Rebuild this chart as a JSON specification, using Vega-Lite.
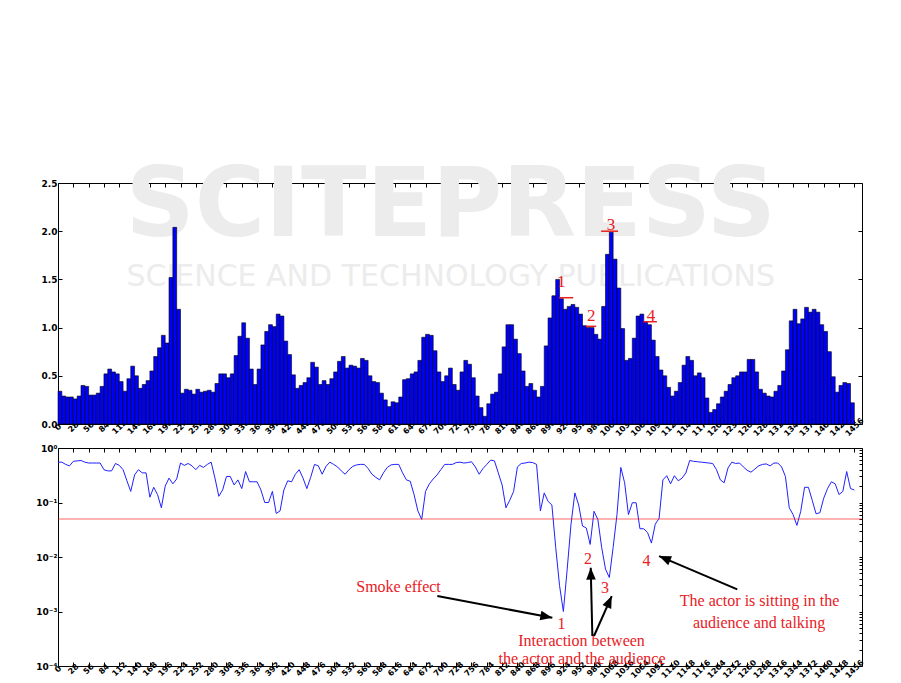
{
  "$schema": "https://vega.github.io/schema/vega-lite/v6.json",
  "background": "white",
  "padding": {"left": 35, "top": 158, "right": 5, "bottom": 5},
  "spacing": 24,
  "bounds": "flush",
  "config": {
    "view": {"stroke": "#000000", "strokeWidth": 1},
    "axis": {"domain": false, "grid": false, "labelFont": "DejaVu Sans", "labelFontWeight": "bold", "labelFontSize": 8, "labelColor": "#000000", "tickColor": "#000000", "tickSize": -4, "title": null, "labelOverlap": false, "labelFlush": false}
  },
  "datasets": {
    "watermark": [
      {"row": 1, "text": "SCITEPRESS", "x": 718, "v": 1.95},
      {"row": 2, "text": "SCIENCE AND TECHNOLOGY PUBLICATIONS", "x": 718, "v": 1.43}
    ],
    "bars": [
      {"s":0,"e":7,"h":0.34},{"s":7,"e":14,"h":0.29},{"s":14,"e":21,"h":0.28},{"s":21,"e":28,"h":0.28},{"s":28,"e":35,"h":0.26},{"s":35,"e":42,"h":0.29},{"s":42,"e":49,"h":0.40},{"s":49,"e":56,"h":0.39},{"s":56,"e":63,"h":0.30},{"s":63,"e":70,"h":0.30},
      {"s":70,"e":77,"h":0.32},{"s":77,"e":84,"h":0.39},{"s":84,"e":91,"h":0.52},{"s":91,"e":98,"h":0.57},{"s":98,"e":105,"h":0.54},{"s":105,"e":112,"h":0.52},{"s":112,"e":119,"h":0.44},{"s":119,"e":126,"h":0.34},{"s":126,"e":133,"h":0.47},{"s":133,"e":140,"h":0.60},
      {"s":140,"e":147,"h":0.50},{"s":147,"e":154,"h":0.37},{"s":154,"e":161,"h":0.41},{"s":161,"e":168,"h":0.45},{"s":168,"e":175,"h":0.55},{"s":175,"e":182,"h":0.70},{"s":182,"e":189,"h":0.79},{"s":189,"e":196,"h":0.92},{"s":196,"e":203,"h":0.84},{"s":203,"e":210,"h":1.52},
      {"s":210,"e":217,"h":2.04},{"s":217,"e":224,"h":1.19},{"s":224,"e":231,"h":0.32},{"s":231,"e":238,"h":0.36},{"s":238,"e":245,"h":0.35},{"s":245,"e":252,"h":0.31},{"s":252,"e":259,"h":0.36},{"s":259,"e":266,"h":0.33},{"s":266,"e":273,"h":0.34},{"s":273,"e":280,"h":0.35},
      {"s":280,"e":287,"h":0.33},{"s":287,"e":294,"h":0.42},{"s":294,"e":301,"h":0.52},{"s":301,"e":308,"h":0.52},{"s":308,"e":315,"h":0.48},{"s":315,"e":322,"h":0.52},{"s":322,"e":329,"h":0.71},{"s":329,"e":336,"h":0.91},{"s":336,"e":343,"h":1.05},{"s":343,"e":350,"h":0.89},
      {"s":350,"e":357,"h":0.57},{"s":357,"e":364,"h":0.41},{"s":364,"e":371,"h":0.57},{"s":371,"e":378,"h":0.82},{"s":378,"e":385,"h":0.96},{"s":385,"e":392,"h":1.03},{"s":392,"e":399,"h":1.01},{"s":399,"e":406,"h":1.14},{"s":406,"e":413,"h":1.12},{"s":413,"e":420,"h":0.86},
      {"s":420,"e":427,"h":0.72},{"s":427,"e":434,"h":0.51},{"s":434,"e":441,"h":0.37},{"s":441,"e":448,"h":0.40},{"s":448,"e":455,"h":0.43},{"s":455,"e":462,"h":0.48},{"s":462,"e":469,"h":0.64},{"s":469,"e":476,"h":0.59},{"s":476,"e":483,"h":0.41},{"s":483,"e":490,"h":0.45},
      {"s":490,"e":497,"h":0.41},{"s":497,"e":504,"h":0.47},{"s":504,"e":511,"h":0.54},{"s":511,"e":518,"h":0.65},{"s":518,"e":525,"h":0.70},{"s":525,"e":532,"h":0.58},{"s":532,"e":539,"h":0.61},{"s":539,"e":546,"h":0.60},{"s":546,"e":553,"h":0.58},{"s":553,"e":560,"h":0.68},
      {"s":560,"e":567,"h":0.66},{"s":567,"e":574,"h":0.50},{"s":574,"e":581,"h":0.44},{"s":581,"e":588,"h":0.43},{"s":588,"e":595,"h":0.32},{"s":595,"e":602,"h":0.25},{"s":602,"e":609,"h":0.18},{"s":609,"e":616,"h":0.23},{"s":616,"e":623,"h":0.22},{"s":623,"e":630,"h":0.28},
      {"s":630,"e":637,"h":0.46},{"s":637,"e":644,"h":0.47},{"s":644,"e":651,"h":0.52},{"s":651,"e":658,"h":0.54},{"s":658,"e":665,"h":0.66},{"s":665,"e":672,"h":0.90},{"s":672,"e":679,"h":0.93},{"s":679,"e":686,"h":0.92},{"s":686,"e":693,"h":0.76},{"s":693,"e":700,"h":0.54},
      {"s":700,"e":707,"h":0.44},{"s":707,"e":714,"h":0.50},{"s":714,"e":721,"h":0.58},{"s":721,"e":728,"h":0.41},{"s":728,"e":735,"h":0.35},{"s":735,"e":742,"h":0.54},{"s":742,"e":749,"h":0.66},{"s":749,"e":756,"h":0.62},{"s":756,"e":763,"h":0.48},{"s":763,"e":770,"h":0.29},
      {"s":770,"e":777,"h":0.17},{"s":777,"e":784,"h":0.08},{"s":784,"e":791,"h":0.21},{"s":791,"e":798,"h":0.31},{"s":798,"e":805,"h":0.33},{"s":805,"e":812,"h":0.52},{"s":812,"e":819,"h":0.80},{"s":819,"e":826,"h":1.03},{"s":826,"e":833,"h":1.03},{"s":833,"e":840,"h":0.88},
      {"s":840,"e":847,"h":0.73},{"s":847,"e":854,"h":0.55},{"s":854,"e":861,"h":0.39},{"s":861,"e":868,"h":0.42},{"s":868,"e":875,"h":0.35},{"s":875,"e":882,"h":0.28},{"s":882,"e":889,"h":0.39},{"s":889,"e":896,"h":0.81},{"s":896,"e":903,"h":1.10},{"s":903,"e":910,"h":1.33},
      {"s":910,"e":917,"h":1.50},{"s":917,"e":924,"h":1.30},{"s":924,"e":931,"h":1.19},{"s":931,"e":938,"h":1.22},{"s":938,"e":945,"h":1.24},{"s":945,"e":952,"h":1.21},{"s":952,"e":959,"h":1.14},{"s":959,"e":966,"h":1.02},{"s":966,"e":973,"h":1.00},{"s":973,"e":980,"h":1.00},
      {"s":980,"e":987,"h":0.93},{"s":987,"e":994,"h":0.88},{"s":994,"e":1001,"h":1.22},{"s":1001,"e":1008,"h":1.76},{"s":1008,"e":1015,"h":1.99},{"s":1015,"e":1022,"h":1.71},{"s":1022,"e":1029,"h":1.41},{"s":1029,"e":1036,"h":0.99},{"s":1036,"e":1043,"h":0.66},{"s":1043,"e":1050,"h":0.68},
      {"s":1050,"e":1057,"h":0.89},{"s":1057,"e":1064,"h":1.12},{"s":1064,"e":1071,"h":1.14},{"s":1071,"e":1078,"h":1.06},{"s":1078,"e":1085,"h":1.03},{"s":1085,"e":1092,"h":0.87},{"s":1092,"e":1099,"h":0.70},{"s":1099,"e":1106,"h":0.56},{"s":1106,"e":1113,"h":0.50},{"s":1113,"e":1120,"h":0.38},
      {"s":1120,"e":1127,"h":0.29},{"s":1127,"e":1134,"h":0.34},{"s":1134,"e":1141,"h":0.43},{"s":1141,"e":1148,"h":0.61},{"s":1148,"e":1155,"h":0.70},{"s":1155,"e":1162,"h":0.66},{"s":1162,"e":1169,"h":0.50},{"s":1169,"e":1176,"h":0.53},{"s":1176,"e":1183,"h":0.48},{"s":1183,"e":1190,"h":0.27},
      {"s":1190,"e":1197,"h":0.12},{"s":1197,"e":1204,"h":0.15},{"s":1204,"e":1211,"h":0.21},{"s":1211,"e":1218,"h":0.28},{"s":1218,"e":1225,"h":0.34},{"s":1225,"e":1232,"h":0.41},{"s":1232,"e":1239,"h":0.48},{"s":1239,"e":1246,"h":0.50},{"s":1246,"e":1253,"h":0.54},{"s":1253,"e":1260,"h":0.54},
      {"s":1260,"e":1267,"h":0.67},{"s":1267,"e":1274,"h":0.67},{"s":1274,"e":1281,"h":0.54},{"s":1281,"e":1288,"h":0.36},{"s":1288,"e":1295,"h":0.32},{"s":1295,"e":1302,"h":0.29},{"s":1302,"e":1309,"h":0.28},{"s":1309,"e":1316,"h":0.34},{"s":1316,"e":1323,"h":0.40},{"s":1323,"e":1330,"h":0.55},
      {"s":1330,"e":1337,"h":0.77},{"s":1337,"e":1344,"h":1.07},{"s":1344,"e":1351,"h":1.19},{"s":1351,"e":1358,"h":1.04},{"s":1358,"e":1365,"h":1.09},{"s":1365,"e":1372,"h":1.21},{"s":1372,"e":1379,"h":1.16},{"s":1379,"e":1386,"h":1.19},{"s":1386,"e":1393,"h":1.16},{"s":1393,"e":1400,"h":1.03},
      {"s":1400,"e":1407,"h":0.96},{"s":1407,"e":1414,"h":0.75},{"s":1414,"e":1421,"h":0.49},{"s":1421,"e":1428,"h":0.33},{"s":1428,"e":1435,"h":0.40},{"s":1435,"e":1442,"h":0.43},{"s":1442,"e":1449,"h":0.42},{"s":1449,"e":1456,"h":0.22}
    ],
    "pvalues": [
      {"f":0,"p":0.55},{"f":7,"p":0.55},{"f":14,"p":0.50},{"f":21,"p":0.47},{"f":28,"p":0.57},{"f":35,"p":0.58},{"f":42,"p":0.59},{"f":49,"p":0.55},{"f":56,"p":0.53},{"f":63,"p":0.53},
      {"f":70,"p":0.53},{"f":77,"p":0.53},{"f":84,"p":0.40},{"f":91,"p":0.38},{"f":98,"p":0.38},{"f":105,"p":0.52},{"f":112,"p":0.48},{"f":119,"p":0.40},{"f":126,"p":0.25},{"f":133,"p":0.16},
      {"f":140,"p":0.32},{"f":147,"p":0.40},{"f":154,"p":0.35},{"f":161,"p":0.35},{"f":168,"p":0.125},{"f":175,"p":0.19},{"f":182,"p":0.14},{"f":189,"p":0.08},{"f":196,"p":0.20},{"f":203,"p":0.28},
      {"f":210,"p":0.22},{"f":217,"p":0.27},{"f":224,"p":0.53},{"f":231,"p":0.48},{"f":238,"p":0.52},{"f":245,"p":0.47},{"f":252,"p":0.40},{"f":259,"p":0.48},{"f":266,"p":0.44},{"f":273,"p":0.50},
      {"f":280,"p":0.55},{"f":287,"p":0.28},{"f":294,"p":0.13},{"f":301,"p":0.17},{"f":308,"p":0.30},{"f":315,"p":0.30},{"f":322,"p":0.21},{"f":329,"p":0.26},{"f":336,"p":0.18},{"f":343,"p":0.37},
      {"f":350,"p":0.24},{"f":357,"p":0.24},{"f":364,"p":0.24},{"f":371,"p":0.17},{"f":378,"p":0.10},{"f":385,"p":0.10},{"f":392,"p":0.16},{"f":399,"p":0.063},{"f":406,"p":0.07},{"f":413,"p":0.17},
      {"f":420,"p":0.25},{"f":427,"p":0.24},{"f":434,"p":0.33},{"f":441,"p":0.40},{"f":448,"p":0.28},{"f":455,"p":0.18},{"f":462,"p":0.29},{"f":469,"p":0.50},{"f":476,"p":0.47},{"f":483,"p":0.33},
      {"f":490,"p":0.46},{"f":497,"p":0.55},{"f":504,"p":0.50},{"f":511,"p":0.45},{"f":518,"p":0.38},{"f":525,"p":0.33},{"f":532,"p":0.40},{"f":539,"p":0.46},{"f":546,"p":0.49},{"f":553,"p":0.50},
      {"f":560,"p":0.50},{"f":567,"p":0.42},{"f":574,"p":0.33},{"f":581,"p":0.29},{"f":588,"p":0.26},{"f":595,"p":0.35},{"f":602,"p":0.44},{"f":609,"p":0.49},{"f":616,"p":0.50},{"f":623,"p":0.50},
      {"f":630,"p":0.35},{"f":637,"p":0.26},{"f":644,"p":0.245},{"f":651,"p":0.14},{"f":658,"p":0.07},{"f":665,"p":0.049},{"f":672,"p":0.16},{"f":679,"p":0.22},{"f":686,"p":0.27},{"f":693,"p":0.32},
      {"f":700,"p":0.40},{"f":707,"p":0.50},{"f":714,"p":0.50},{"f":721,"p":0.50},{"f":728,"p":0.54},{"f":735,"p":0.55},{"f":742,"p":0.53},{"f":749,"p":0.54},{"f":756,"p":0.56},{"f":763,"p":0.45},
      {"f":770,"p":0.33},{"f":777,"p":0.42},{"f":784,"p":0.50},{"f":791,"p":0.60},{"f":798,"p":0.58},{"f":805,"p":0.35},{"f":812,"p":0.21},{"f":819,"p":0.08},{"f":826,"p":0.11},{"f":833,"p":0.16},
      {"f":840,"p":0.45},{"f":847,"p":0.52},{"f":854,"p":0.53},{"f":861,"p":0.55},{"f":868,"p":0.54},{"f":875,"p":0.50},{"f":882,"p":0.07},{"f":889,"p":0.15},{"f":896,"p":0.105},{"f":903,"p":0.09},
      {"f":910,"p":0.015},{"f":917,"p":0.003},{"f":924,"p":0.001},{"f":931,"p":0.006},{"f":938,"p":0.04},{"f":945,"p":0.15},{"f":952,"p":0.09},{"f":959,"p":0.037},{"f":966,"p":0.034},{"f":973,"p":0.017},
      {"f":980,"p":0.069},{"f":987,"p":0.049},{"f":994,"p":0.015},{"f":1001,"p":0.006},{"f":1008,"p":0.0042},{"f":1015,"p":0.015},{"f":1022,"p":0.06},{"f":1029,"p":0.44},{"f":1036,"p":0.23},{"f":1043,"p":0.06},
      {"f":1050,"p":0.099},{"f":1057,"p":0.099},{"f":1064,"p":0.033},{"f":1071,"p":0.033},{"f":1078,"p":0.028},{"f":1085,"p":0.018},{"f":1092,"p":0.04},{"f":1099,"p":0.051},{"f":1106,"p":0.26},{"f":1113,"p":0.31},
      {"f":1120,"p":0.22},{"f":1127,"p":0.31},{"f":1134,"p":0.25},{"f":1141,"p":0.28},{"f":1148,"p":0.35},{"f":1155,"p":0.59},{"f":1162,"p":0.57},{"f":1169,"p":0.56},{"f":1176,"p":0.55},{"f":1183,"p":0.54},
      {"f":1190,"p":0.53},{"f":1197,"p":0.52},{"f":1204,"p":0.40},{"f":1211,"p":0.26},{"f":1218,"p":0.23},{"f":1225,"p":0.43},{"f":1232,"p":0.55},{"f":1239,"p":0.52},{"f":1246,"p":0.53},{"f":1253,"p":0.45},
      {"f":1260,"p":0.39},{"f":1267,"p":0.36},{"f":1274,"p":0.41},{"f":1281,"p":0.47},{"f":1288,"p":0.50},{"f":1295,"p":0.51},{"f":1302,"p":0.47},{"f":1309,"p":0.53},{"f":1316,"p":0.53},{"f":1323,"p":0.45},
      {"f":1330,"p":0.30},{"f":1337,"p":0.08},{"f":1344,"p":0.06},{"f":1351,"p":0.038},{"f":1358,"p":0.069},{"f":1365,"p":0.19},{"f":1372,"p":0.19},{"f":1379,"p":0.11},{"f":1386,"p":0.062},{"f":1393,"p":0.065},
      {"f":1400,"p":0.12},{"f":1407,"p":0.18},{"f":1414,"p":0.24},{"f":1421,"p":0.22},{"f":1428,"p":0.14},{"f":1435,"p":0.16},{"f":1442,"p":0.37},{"f":1449,"p":0.18},{"f":1456,"p":0.17}
    ],
    "peak_labels": [
      {"n": "1", "x": 920, "v": 1.42},
      {"n": "2", "x": 975, "v": 1.065},
      {"n": "3", "x": 1011, "v": 2.015},
      {"n": "4", "x": 1084, "v": 1.07}
    ],
    "peak_lines": [
      {"x": 916, "x2": 942, "v": 1.31},
      {"x": 965, "x2": 984, "v": 1.013},
      {"x": 993, "x2": 1024, "v": 2.0},
      {"x": 1070, "x2": 1095, "v": 1.061}
    ],
    "threshold": [{"p": 0.05}],
    "notes": [
      {"t": "Smoke effect", "x": 622.6, "p": 0.00228},
      {"t": "1", "x": 920.6, "p": 0.000478},
      {"t": "2", "x": 969.1, "p": 0.00744},
      {"t": "3", "x": 1000.2, "p": 0.00218},
      {"t": "4", "x": 1076, "p": 0.00684},
      {"t": "Interaction between", "x": 957.2, "p": 0.000233},
      {"t": "the actor and the audience", "x": 958.1, "p": 0.000109},
      {"t": "The actor is sitting in the", "x": 1282.7, "p": 0.00126},
      {"t": "audience and talking", "x": 1281.8, "p": 0.000498}
    ],
    "arrows": [
      {"id": 1, "x": 693.5, "p": 0.00192, "x2": 903.8, "p2": 0.000769},
      {"id": 2, "x": 977, "p": 0.000355, "x2": 974, "p2": 0.00637},
      {"id": 3, "x": 980, "p": 0.000355, "x2": 1012.4, "p2": 0.00192},
      {"id": 4, "x": 1242, "p": 0.00255, "x2": 1099, "p2": 0.0104}
    ]
  },
  "vconcat": [
    {
      "width": 804,
      "height": 241,
      "resolve": {"axis": {"x": "independent", "y": "independent"}},
      "layer": [
        {
          "data": {"name": "watermark"},
          "transform": [{"filter": "datum.row == 1"}],
          "mark": {"type": "text", "font": "DejaVu Sans", "fontWeight": "bold", "fontSize": 96, "color": "#ececec", "align": "center", "baseline": "alphabetic"},
          "encoding": {
            "x": {"field": "x", "type": "quantitative", "scale": {"domain": [0, 1470], "nice": false, "zero": false}, "axis": null},
            "y": {"field": "v", "type": "quantitative", "scale": {"domain": [0, 2.5], "nice": false}, "axis": null},
            "text": {"field": "text"}
          }
        },
        {
          "data": {"name": "watermark"},
          "transform": [{"filter": "datum.row == 2"}],
          "mark": {"type": "text", "font": "DejaVu Sans", "fontSize": 30, "color": "#ececec", "align": "center", "baseline": "alphabetic"},
          "encoding": {
            "x": {"field": "x", "type": "quantitative", "scale": {"domain": [0, 1470], "nice": false, "zero": false}, "axis": null},
            "y": {"field": "v", "type": "quantitative", "scale": {"domain": [0, 2.5], "nice": false}, "axis": null},
            "text": {"field": "text"}
          }
        },
        {
          "data": {"name": "bars"},
          "mark": {"type": "bar", "fill": "#0000ff", "stroke": "#000000", "strokeWidth": 0.6},
          "encoding": {
            "x": {"field": "s", "type": "quantitative", "scale": {"domain": [0, 1470], "nice": false, "zero": false},
                  "axis": {"orient": "bottom", "format": "d", "values": [0,28,56,84,112,140,168,196,224,252,280,308,336,364,392,420,448,476,504,532,560,588,616,644,672,700,728,756,784,812,840,868,896,924,952,980,1008,1036,1064,1092,1120,1148,1176,1204,1232,1260,1288,1316,1344,1372,1400,1428,1456], "labelAngle": -45, "labelAlign": "center", "labelBaseline": "middle", "labelPadding": 7}},
            "x2": {"field": "e"},
            "y": {"field": "h", "type": "quantitative", "scale": {"domain": [0, 2.5], "nice": false},
                  "axis": {"orient": "left", "values": [0, 0.5, 1, 1.5, 2, 2.5], "format": ".1f", "labelFontSize": 9, "labelPadding": 5}},
            "y2": {"datum": 0}
          }
        },
        {
          "data": {"name": "peak_lines"},
          "mark": {"type": "rule", "color": "#e8201e", "strokeWidth": 1.5},
          "encoding": {
            "x": {"field": "x", "type": "quantitative", "scale": {"domain": [0, 1470], "nice": false, "zero": false},
                  "axis": {"orient": "top", "labels": false, "values": [0,28,56,84,112,140,168,196,224,252,280,308,336,364,392,420,448,476,504,532,560,588,616,644,672,700,728,756,784,812,840,868,896,924,952,980,1008,1036,1064,1092,1120,1148,1176,1204,1232,1260,1288,1316,1344,1372,1400,1428,1456]}},
            "x2": {"field": "x2"},
            "y": {"field": "v", "type": "quantitative", "scale": {"domain": [0, 2.5], "nice": false},
                  "axis": {"orient": "right", "labels": false, "values": [0, 0.5, 1, 1.5, 2, 2.5]}}
          }
        },
        {
          "data": {"name": "peak_labels"},
          "mark": {"type": "text", "font": "Liberation Serif", "fontSize": 17, "color": "#e8201e", "align": "center", "baseline": "alphabetic"},
          "encoding": {
            "x": {"field": "x", "type": "quantitative", "scale": {"domain": [0, 1470], "nice": false, "zero": false}, "axis": null},
            "y": {"field": "v", "type": "quantitative", "scale": {"domain": [0, 2.5], "nice": false}, "axis": null},
            "text": {"field": "n"}
          }
        }
      ]
    },
    {
      "width": 804,
      "height": 218,
      "resolve": {"axis": {"x": "independent", "y": "independent"}},
      "layer": [
        {
          "data": {"name": "pvalues"},
          "mark": {"type": "line", "color": "#2020ff", "strokeWidth": 1},
          "encoding": {
            "x": {"field": "f", "type": "quantitative", "scale": {"domain": [0, 1470], "nice": false, "zero": false},
                  "axis": {"orient": "bottom", "format": "d", "values": [0,28,56,84,112,140,168,196,224,252,280,308,336,364,392,420,448,476,504,532,560,588,616,644,672,700,728,756,784,812,840,868,896,924,952,980,1008,1036,1064,1092,1120,1148,1176,1204,1232,1260,1288,1316,1344,1372,1400,1428,1456], "labelAngle": -45, "labelAlign": "center", "labelBaseline": "middle", "labelPadding": 7}},
            "y": {"field": "p", "type": "quantitative", "scale": {"type": "log", "domain": [0.0001, 1], "nice": false},
                  "axis": {"orient": "left", "values": [0.0001, 0.001, 0.01, 0.1, 1], "labelFontSize": 9, "labelPadding": 5,
                           "labelExpr": "datum.value >= 0.5 ? '10⁰' : datum.value >= 0.05 ? '10⁻¹' : datum.value >= 0.005 ? '10⁻²' : datum.value >= 0.0005 ? '10⁻³' : '10⁻⁴'"}}
          }
        },
        {
          "data": {"name": "threshold"},
          "mark": {"type": "rule", "color": "#ff0000", "opacity": 0.4, "strokeWidth": 1.5},
          "encoding": {
            "y": {"field": "p", "type": "quantitative", "scale": {"type": "log", "domain": [0.0001, 1], "nice": false},
                  "axis": {"orient": "right", "labels": false, "tickSize": -3, "values": [0.0001,0.0002,0.0003,0.0004,0.0005,0.0006,0.0007,0.0008,0.0009,0.001,0.002,0.003,0.004,0.005,0.006,0.007,0.008,0.009,0.01,0.02,0.03,0.04,0.05,0.06,0.07,0.08,0.09,0.1,0.2,0.3,0.4,0.5,0.6,0.7,0.8,0.9,1]}}
          }
        },
        {
          "data": {"name": "notes"},
          "mark": {"type": "text", "font": "Liberation Serif", "fontSize": 16, "color": "#e8201e", "align": "center", "baseline": "alphabetic"},
          "encoding": {
            "x": {"field": "x", "type": "quantitative", "scale": {"domain": [0, 1470], "nice": false, "zero": false},
                  "axis": {"orient": "top", "labels": false, "values": [0,28,56,84,112,140,168,196,224,252,280,308,336,364,392,420,448,476,504,532,560,588,616,644,672,700,728,756,784,812,840,868,896,924,952,980,1008,1036,1064,1092,1120,1148,1176,1204,1232,1260,1288,1316,1344,1372,1400,1428,1456]}},
            "y": {"field": "p", "type": "quantitative", "scale": {"type": "log", "domain": [0.0001, 1], "nice": false}, "axis": null},
            "text": {"field": "t"}
          }
        },
        {
          "data": {"name": "arrows"},
          "mark": {"type": "rule", "color": "#000000", "strokeWidth": 2},
          "encoding": {
            "x": {"field": "x", "type": "quantitative", "scale": {"domain": [0, 1470], "nice": false, "zero": false}, "axis": null},
            "x2": {"field": "x2"},
            "y": {"field": "p", "type": "quantitative", "scale": {"type": "log", "domain": [0.0001, 1], "nice": false}, "axis": null},
            "y2": {"field": "p2"}
          }
        },
        {
          "data": {"name": "arrows"},
          "transform": [{"filter": "datum.id == 1"}],
          "mark": {"type": "point", "shape": "M0,0L-0.4,1L0.4,1Z", "filled": true, "color": "#000000", "opacity": 1, "strokeWidth": 0, "size": 576, "angle": 100.7},
          "encoding": {
            "x": {"field": "x2", "type": "quantitative", "scale": {"domain": [0, 1470], "nice": false, "zero": false}, "axis": null},
            "y": {"field": "p2", "type": "quantitative", "scale": {"type": "log", "domain": [0.0001, 1], "nice": false}, "axis": null}
          }
        },
        {
          "data": {"name": "arrows"},
          "transform": [{"filter": "datum.id == 2"}],
          "mark": {"type": "point", "shape": "M0,0L-0.4,1L0.4,1Z", "filled": true, "color": "#000000", "opacity": 1, "strokeWidth": 0, "size": 576, "angle": -1.3},
          "encoding": {
            "x": {"field": "x2", "type": "quantitative", "scale": {"domain": [0, 1470], "nice": false, "zero": false}, "axis": null},
            "y": {"field": "p2", "type": "quantitative", "scale": {"type": "log", "domain": [0.0001, 1], "nice": false}, "axis": null}
          }
        },
        {
          "data": {"name": "arrows"},
          "transform": [{"filter": "datum.id == 3"}],
          "mark": {"type": "point", "shape": "M0,0L-0.4,1L0.4,1Z", "filled": true, "color": "#000000", "opacity": 1, "strokeWidth": 0, "size": 576, "angle": 23.9},
          "encoding": {
            "x": {"field": "x2", "type": "quantitative", "scale": {"domain": [0, 1470], "nice": false, "zero": false}, "axis": null},
            "y": {"field": "p2", "type": "quantitative", "scale": {"type": "log", "domain": [0.0001, 1], "nice": false}, "axis": null}
          }
        },
        {
          "data": {"name": "arrows"},
          "transform": [{"filter": "datum.id == 4"}],
          "mark": {"type": "point", "shape": "M0,0L-0.4,1L0.4,1Z", "filled": true, "color": "#000000", "opacity": 1, "strokeWidth": 0, "size": 576, "angle": -67},
          "encoding": {
            "x": {"field": "x2", "type": "quantitative", "scale": {"domain": [0, 1470], "nice": false, "zero": false}, "axis": null},
            "y": {"field": "p2", "type": "quantitative", "scale": {"type": "log", "domain": [0.0001, 1], "nice": false}, "axis": null}
          }
        }
      ]
    }
  ]
}
